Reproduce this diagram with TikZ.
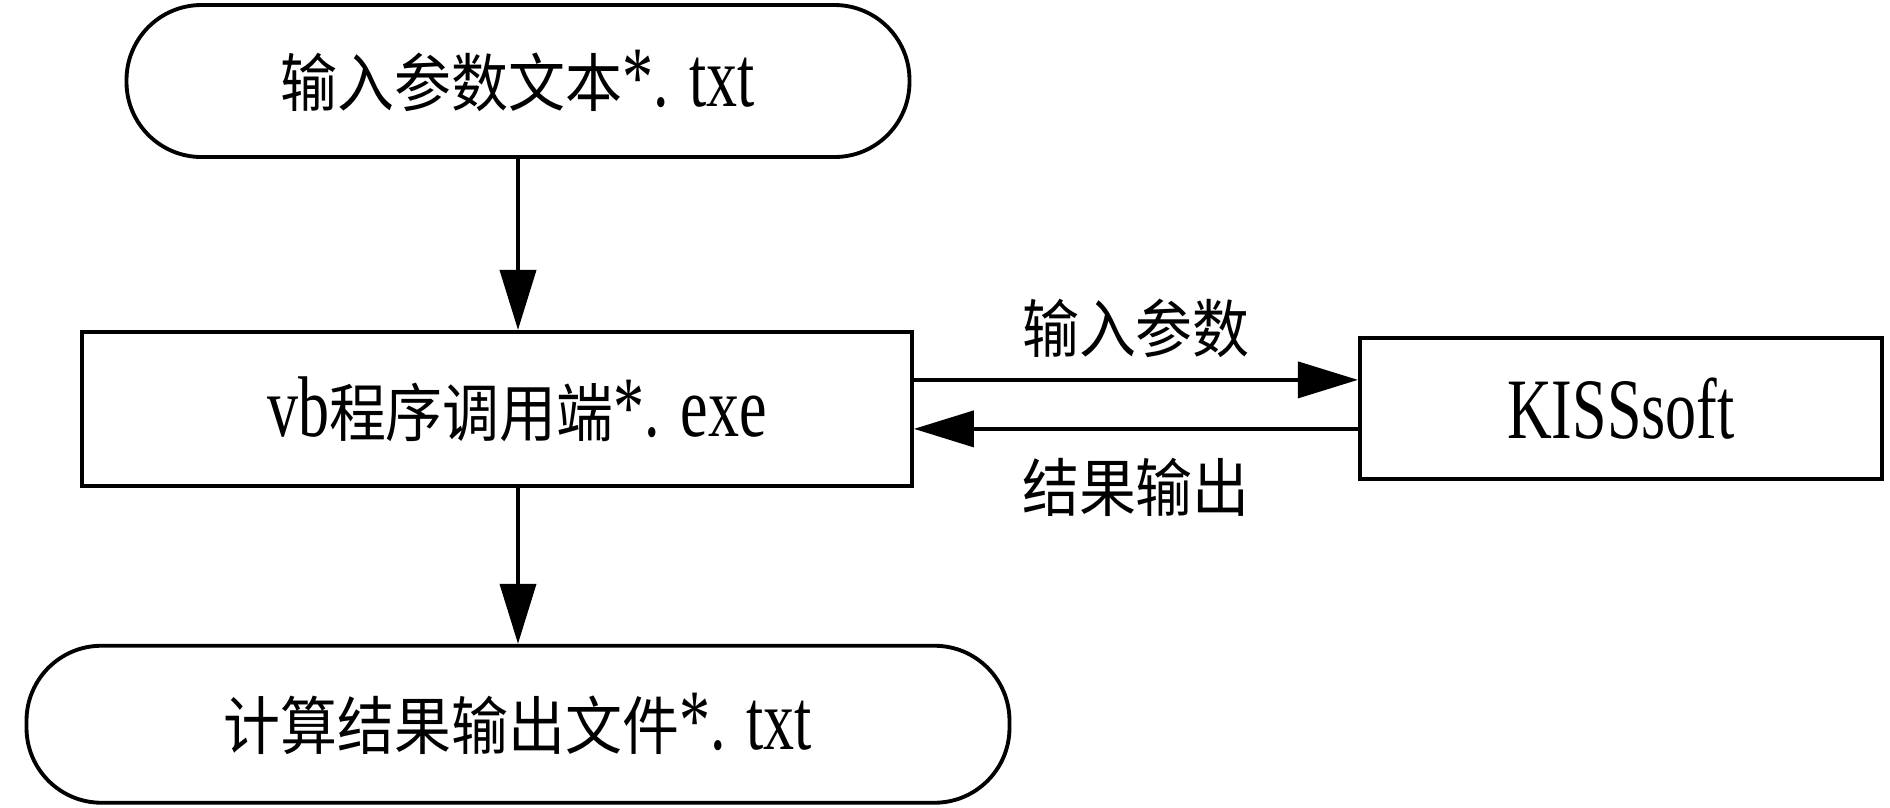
\documentclass[tikz,border=0pt]{standalone}
\usepackage{fontspec}
\setmainfont[FakeStretch=0.72]{Liberation Serif}
\newfontfamily\zhfont[FakeStretch=0.9]{Noto Sans CJK SC}
\newcommand{\zh}[1]{{\zhfont\fontsize{18pt}{20pt}\selectfont #1}}
\usetikzlibrary{arrows.meta, positioning}

\begin{document}
\begin{tikzpicture}[
                node distance=1.7cm and 4.4cm,
                term/.style={rectangle, rounded corners=0.75cm, draw=black, line width=1.1pt, align=center, font=\fontsize{24.5pt}{28pt}\selectfont},
                proc/.style={rectangle, draw=black, line width=1.1pt, align=center, font=\fontsize{24.5pt}{28pt}\selectfont},
                lbl/.style={font=\fontsize{24.5pt}{28pt}\selectfont, inner sep=0pt},
                arrow/.style={line width=1.1pt, -{Triangle[length=0.6cm, width=0.36cm]}}
            ]%
            \useasboundingbox (0,0) rectangle (18.9,-8.07);
            %
            % === flujo principal ===
            \node[term, minimum width=7.83cm, minimum height=1.52cm] (txtin) at (5.18,-0.81) {\zh{输入参数文本}*. txt};
            \node[proc, minimum width=8.30cm, minimum height=1.54cm, below=1.71cm of txtin, xshift=-0.21cm] (vbexe) {\hspace{0.4cm}vb\zh{程序调用端}*. exe};
            \node[term, minimum width=9.83cm, minimum height=1.57cm, below=1.56cm of vbexe, xshift=0.21cm] (txtout) {\zh{计算结果输出文件}*. txt};
            %
            % === KISSsoft (derecha) ===
            \node[proc, minimum width=5.22cm, minimum height=1.41cm, right=4.44cm of vbexe] (kiss) {KISSsoft};
            %
            % Conexiones
            \draw[arrow] (txtin.south) -- (txtin.south |- vbexe.north);
            \draw[arrow] (txtin.south |- vbexe.south) -- (txtout.north);
            \draw[arrow] ([yshift=0.29cm]vbexe.east) -- node[lbl, above=0.2cm] (lblin) {\zh{输入参数}} ([yshift=0.29cm]vbexe.east -| kiss.west);
            \draw[arrow] ([yshift=-0.2cm]vbexe.east -| kiss.west) -- node[lbl, below=0.27cm] (lblout) {\zh{结果输出}} ([yshift=-0.2cm]vbexe.east);
        \end{tikzpicture}
\end{document}
